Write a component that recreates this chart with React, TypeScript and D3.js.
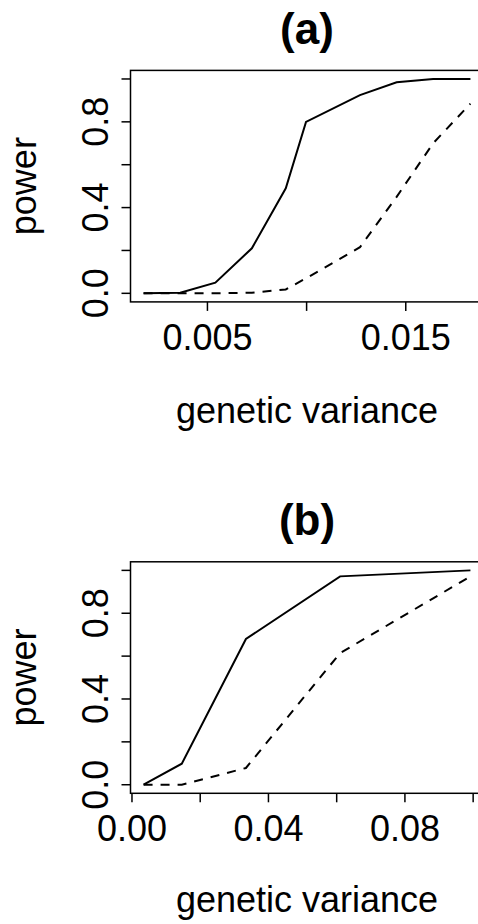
import React from 'react';
import * as d3 from 'd3';

// panel (a)
const xA = [0.00178, 0.00363, 0.0054, 0.00724, 0.00895, 0.00997, 0.01269, 0.01454, 0.01638, 0.01826];
const solidA = [0.0, 0.003, 0.05, 0.21, 0.49, 0.8, 0.925, 0.985, 1.0, 1.0];
const dashedA = [0.0, 0.0, 0.0, 0.003, 0.018, 0.07, 0.215, 0.45, 0.7, 0.885];
const xTicksA = [0.005, 0.01, 0.015];
const xLabelsA = ['0.005', '', '0.015'];

// panel (b)
const xB = [0.0034, 0.0146, 0.0334, 0.061, 0.0992];
const solidB = [0.0, 0.098, 0.68, 0.972, 1.0];
const dashedB = [0.0, 0.0, 0.078, 0.614, 0.972];
const xTicksB = [0.0, 0.02, 0.04, 0.06, 0.08, 0.1];
const xLabelsB = ['0.00', '', '0.04', '', '0.08', ''];

const yTicks = [0, 0.2, 0.4, 0.6, 0.8, 1.0];
const yLabels = ['0.0', '', '0.4', '', '0.8', ''];

const FONT = 'Liberation Sans, Arial, Helvetica, sans-serif';

type PanelProps = {
  title: string;
  top: number;
  xs: number[];
  solid: number[];
  dashed: number[];
  xTicks: number[];
  xLabels: string[];
  xLabelOffset: number;
};

const Panel = ({ title, top, xs, solid, dashed, xTicks, xLabels, xLabelOffset }: PanelProps) => {
  const left = 130.5;
  const right = 483.5;
  const height = 231.5;
  const bottom = top + height;

  // R style 4% padding around data range
  const [x0, x1] = d3.extent(xs) as [number, number];
  const pad = (x1 - x0) * 0.04;
  const x = d3.scaleLinear().domain([x0 - pad, x1 + pad]).range([left, right]);
  const y = d3.scaleLinear().domain([-0.04, 1.04]).range([bottom, top]);

  const line = d3
    .line<number>()
    .x((_, i) => x(xs[i]))
    .y((d) => y(d));

  const cx = (left + right) / 2;
  const cy = (top + bottom) / 2;

  return (
    <g fontFamily={FONT} fill="#000">
      <text x={cx} y={top - 26.5} textAnchor="middle" fontSize={44} fontWeight="bold">
        {title}
      </text>
      <rect x={left} y={top} width={right - left} height={height} fill="none" stroke="#000" strokeWidth={1.5} />
      <path d={line(solid) || ''} fill="none" stroke="#000" strokeWidth={2} />
      <path d={line(dashed) || ''} fill="none" stroke="#000" strokeWidth={2} strokeDasharray="9,8" />

      {yTicks.map((t, i) => (
        <g key={'y' + i}>
          <line x1={left - 9} x2={left} y1={y(t)} y2={y(t)} stroke="#000" strokeWidth={1.5} />
          {yLabels[i] && (
            <text
              transform={`translate(108,${y(t)}) rotate(-90)`}
              textAnchor="middle"
              fontSize={36}
            >
              {yLabels[i]}
            </text>
          )}
        </g>
      ))}

      {xTicks.map((t, i) => (
        <g key={'x' + i}>
          <line x1={x(t)} x2={x(t)} y1={bottom} y2={bottom + 9} stroke="#000" strokeWidth={1.5} />
          {xLabels[i] && (
            <text x={x(t)} y={bottom + 48} textAnchor="middle" fontSize={36}>
              {xLabels[i]}
            </text>
          )}
        </g>
      ))}

      <text x={cx} y={bottom + xLabelOffset} textAnchor="middle" fontSize={36}>
        genetic variance
      </text>
      <text transform={`translate(36,${cy}) rotate(-90)`} textAnchor="middle" fontSize={36}>
        power
      </text>
    </g>
  );
};

export default function App() {
  return (
    <svg
      width={478}
      height={924}
      style={{ position: 'absolute', left: 0, top: 0, background: '#fff' }}
    >
      <Panel
        title="(a)"
        top={70.4}
        xs={xA}
        solid={solidA}
        dashed={dashedA}
        xTicks={xTicksA}
        xLabels={xLabelsA}
        xLabelOffset={121}
      />
      <Panel
        title="(b)"
        top={561.8}
        xs={xB}
        solid={solidB}
        dashed={dashedB}
        xTicks={xTicksB}
        xLabels={xLabelsB}
        xLabelOffset={119}
      />
    </svg>
  );
}
